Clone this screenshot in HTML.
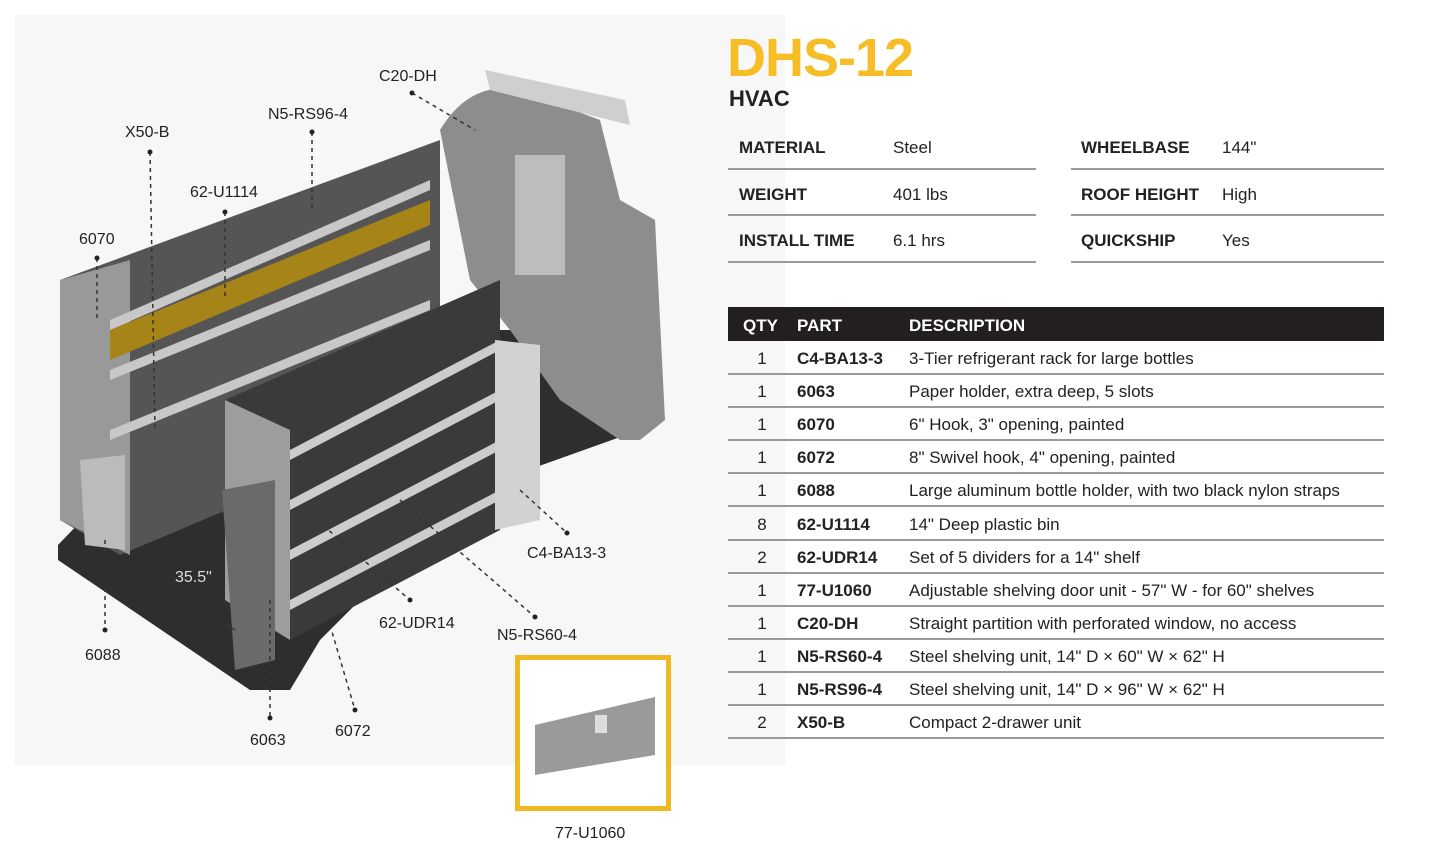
<!DOCTYPE html>
<html><head><style>
body{margin:0;width:1445px;height:853px;background:#fff;font-family:"Liberation Sans",sans-serif;position:relative;overflow:hidden}
.a{position:absolute;white-space:nowrap}
.t{font-size:17px;color:#222}
.b{font-weight:bold}
.ln{position:absolute;height:2px;background:#9a9a9a}
</style></head><body>
<svg class="a" style="left:0;top:0" width="790" height="853">
<rect x="15" y="15" width="770" height="750" fill="#f7f7f7"/>
<!-- floor -->
<polygon points="58,545 130,470 200,470 420,330 640,330 640,430 500,480 360,600 320,640 290,690 250,690 58,560" fill="#2e2e2e"/>
<!-- partition -->
<path d="M440,130 Q470,80 520,90 L600,120 L620,200 L655,220 L665,420 L640,440 L620,440 L560,400 L510,330 L470,280 Z" fill="#8d8d8d"/>
<rect x="515" y="155" width="50" height="120" fill="#bdbdbd"/>
<polygon points="485,70 625,100 630,125 490,90" fill="#cfcfcf"/>
<!-- big shelf -->
<polygon points="60,280 440,140 440,420 120,555 60,520" fill="#555"/>
<polygon points="60,280 130,260 130,555 60,520" fill="#999"/>
<polygon points="110,330 430,200 430,225 110,360" fill="#a78418"/>
<polygon points="110,320 430,180 430,190 110,330" fill="#c8c8c8"/>
<polygon points="110,370 430,240 430,250 110,380" fill="#c8c8c8"/>
<polygon points="110,430 430,300 430,310 110,440" fill="#c8c8c8"/>
<polygon points="80,460 125,455 125,550 85,545" fill="#bbb"/>
<!-- front shelf -->
<polygon points="225,400 500,280 500,530 290,640 225,600" fill="#3a3a3a"/>
<polygon points="225,400 290,430 290,640 225,600" fill="#9d9d9d"/>
<polygon points="290,450 500,340 500,350 290,460" fill="#ccc"/>
<polygon points="290,500 500,390 500,400 290,510" fill="#ccc"/>
<polygon points="290,550 500,440 500,450 290,560" fill="#ccc"/>
<polygon points="290,600 500,490 500,500 290,610" fill="#ccc"/>
<polygon points="495,340 540,345 540,520 495,530" fill="#d2d2d2"/>
<polygon points="222,490 275,480 275,660 235,670" fill="#6a6a6a"/>
<g stroke="#333" stroke-width="1.5" stroke-dasharray="4,4" fill="none">
<line x1="412" y1="93" x2="475" y2="130"/>
<line x1="312" y1="132" x2="312" y2="210"/>
<line x1="150" y1="152" x2="155" y2="430"/>
<line x1="225" y1="212" x2="225" y2="300"/>
<line x1="97" y1="258" x2="97" y2="320"/>
<line x1="520" y1="490" x2="567" y2="533"/>
<line x1="105" y1="540" x2="105" y2="630"/>
<line x1="140" y1="565" x2="235" y2="630"/>
<line x1="305" y1="510" x2="410" y2="600"/>
<line x1="400" y1="500" x2="535" y2="617"/>
<line x1="270" y1="600" x2="270" y2="718"/>
<line x1="330" y1="625" x2="355" y2="710"/>
</g>
<g fill="#222"><circle cx="412" cy="93" r="2.5"/><circle cx="312" cy="132" r="2.5"/><circle cx="150" cy="152" r="2.5"/><circle cx="225" cy="212" r="2.5"/><circle cx="97" cy="258" r="2.5"/><circle cx="567" cy="533" r="2.5"/><circle cx="105" cy="630" r="2.5"/><circle cx="535" cy="617" r="2.5"/><circle cx="270" cy="718" r="2.5"/><circle cx="355" cy="710" r="2.5"/><circle cx="410" cy="600" r="2.5"/></g>
<g font-family="Liberation Sans" font-size="16" fill="#222">
<text x="379" y="81">C20-DH</text><text x="268" y="119">N5-RS96-4</text><text x="125" y="137">X50-B</text>
<text x="190" y="197">62-U1114</text><text x="79" y="244">6070</text><text x="527" y="558">C4-BA13-3</text>
<text x="175" y="582" fill="#ddd">35.5"</text><text x="379" y="628">62-UDR14</text><text x="497" y="640">N5-RS60-4</text>
<text x="85" y="660">6088</text><text x="335" y="736">6072</text><text x="250" y="745">6063</text><text x="555" y="838">77-U1060</text>
</g>
<rect x="517.5" y="657.5" width="151" height="151" fill="#fff" stroke="#f0b921" stroke-width="5"/>
<polygon points="535,725 655,697 655,755 535,775" fill="#9a9a9a"/>
<rect x="595" y="715" width="12" height="18" fill="#ddd"/>
</svg>

<div class="a b" style="left:727px;top:27px;font-size:54px;color:#f6bd27;letter-spacing:-1px">DHS-12</div>
<div class="a b" style="left:729px;top:86px;font-size:22px;color:#222">HVAC</div>

<div class="a t b" style="left:739px;top:138px">MATERIAL</div><div class="a t" style="left:893px;top:138px">Steel</div>
<div class="a t b" style="left:739px;top:185px">WEIGHT</div><div class="a t" style="left:893px;top:185px">401 lbs</div>
<div class="a t b" style="left:739px;top:231px">INSTALL TIME</div><div class="a t" style="left:893px;top:231px">6.1 hrs</div>
<div class="a t b" style="left:1081px;top:138px">WHEELBASE</div><div class="a t" style="left:1222px;top:138px">144"</div>
<div class="a t b" style="left:1081px;top:185px">ROOF HEIGHT</div><div class="a t" style="left:1222px;top:185px">High</div>
<div class="a t b" style="left:1081px;top:231px">QUICKSHIP</div><div class="a t" style="left:1222px;top:231px">Yes</div>
<div class="ln" style="left:728px;top:168px;width:308px"></div><div class="ln" style="left:1071px;top:168px;width:313px"></div>
<div class="ln" style="left:728px;top:214px;width:308px"></div><div class="ln" style="left:1071px;top:214px;width:313px"></div>
<div class="ln" style="left:728px;top:261px;width:308px"></div><div class="ln" style="left:1071px;top:261px;width:313px"></div>

<div class="a" style="left:728px;top:307px;width:656px;height:34px;background:#231f20"></div>
<div class="a b" style="left:743px;top:316px;font-size:17px;color:#fff">QTY</div>
<div class="a b" style="left:797px;top:316px;font-size:17px;color:#fff">PART</div>
<div class="a b" style="left:909px;top:316px;font-size:17px;color:#fff">DESCRIPTION</div>

<div id="rows"></div>
<script>
var r=[["1","C4-BA13-3","3-Tier refrigerant rack for large bottles"],["1","6063","Paper holder, extra deep, 5 slots"],["1","6070","6\" Hook, 3\" opening, painted"],["1","6072","8\" Swivel hook, 4\" opening, painted"],["1","6088","Large aluminum bottle holder, with two black nylon straps"],["8","62-U1114","14\" Deep plastic bin"],["2","62-UDR14","Set of 5 dividers for a 14\" shelf"],["1","77-U1060","Adjustable shelving door unit - 57\" W - for 60\" shelves"],["1","C20-DH","Straight partition with perforated window, no access"],["1","N5-RS60-4","Steel shelving unit, 14\" D × 60\" W × 62\" H"],["1","N5-RS96-4","Steel shelving unit, 14\" D × 96\" W × 62\" H"],["2","X50-B","Compact 2-drawer unit"]];
var h="";r.forEach(function(x,i){var y=341+i*33.1;
h+='<div class="a t" style="left:752px;width:20px;text-align:center;top:'+(y+8)+'px">'+x[0]+'</div><div class="a t b" style="left:797px;top:'+(y+8)+'px">'+x[1]+'</div><div class="a t" style="left:909px;top:'+(y+8)+'px">'+x[2]+'</div><div class="ln" style="left:728px;width:656px;top:'+(y+32)+'px"></div>';});
document.getElementById("rows").innerHTML=h;
</script>
</body></html>
